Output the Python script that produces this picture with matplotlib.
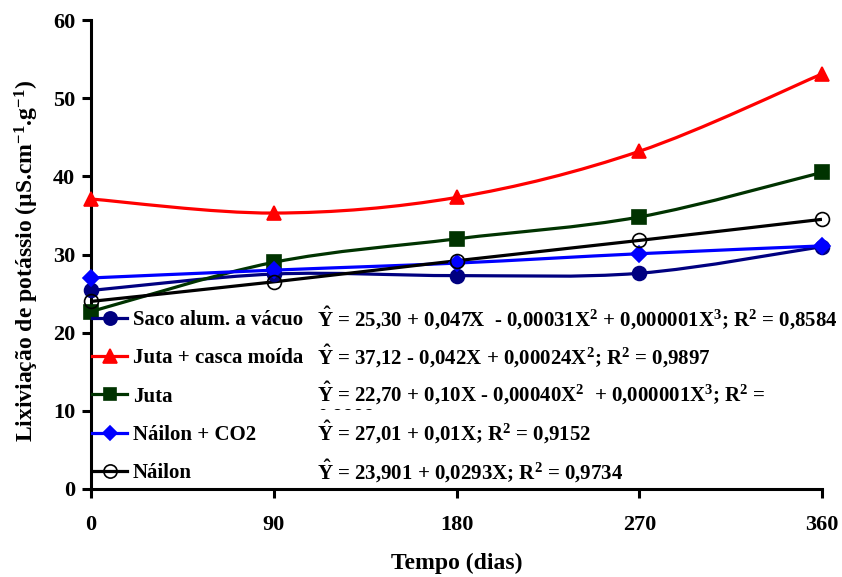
import matplotlib
matplotlib.use("Agg")
import matplotlib.pyplot as plt
import numpy as np
from matplotlib.lines import Line2D
from matplotlib.path import Path
from matplotlib.patches import PathPatch
from matplotlib.transforms import Bbox, TransformedBbox

plt.rcParams['font.family'] = ['Liberation Serif', 'DejaVu Serif']
plt.rcParams['font.weight'] = 'bold'
plt.rcParams['mathtext.fontset'] = 'custom'
plt.rcParams['mathtext.rm'] = 'Liberation Serif:bold'
plt.rcParams['mathtext.it'] = 'Liberation Serif:bold'
plt.rcParams['mathtext.bf'] = 'Liberation Serif:bold'

dias = [0, 90, 180, 270, 360]

saco_vacuo = [25.4, 27.5, 27.3, 27.6, 31.0]
juta_casca = [37.1, 35.3, 37.3, 43.2, 53.1]
juta = [22.7, 29.0, 32.0, 34.8, 40.5]
nailon_co2 = [27.0, 28.0, 28.9, 30.1, 31.1]
nailon = [24.0, 26.5, 29.2, 31.8, 34.5]

nomes = ['Saco alum. a vácuo', 'Juta + casca moída', 'Juta', 'Náilon + CO2', 'Náilon']
equacoes = [
    r'$\hat{Y}$ = 25,30 + 0,047X  - 0,00031X$^{2}$ + 0,000001X$^{3}$; R$^{2}$ = 0,8584',
    r'$\hat{Y}$ = 37,12 - 0,042X + 0,00024X$^{2}$; R$^{2}$ = 0,9897',
    r'$\hat{Y}$ = 22,70 + 0,10X - 0,00040X$^{2}$  + 0,000001X$^{3}$; R$^{2}$ =',
    r'$\hat{Y}$ = 27,01 + 0,01X; R$^{2}$ = 0,9152',
    r'$\hat{Y}$ = 23,901 + 0,0293X; R$^{2}$ = 0,9734',
]

estilos = [
    dict(color='#000080', marker='o', mfc='#000080'),
    dict(color='#ff0000', marker='^', mfc='#ff0000'),
    dict(color='#003300', marker='s', mfc='#003300'),
    dict(color='#0000ff', marker='D', mfc='#0000ff'),
    dict(color='#000000', marker='o', mfc='none'),
]
msizes = [10, 10, 9.5, 8, 10]
fs = 15        # legend and equations
fs_tick = 16
fs_label = 17


def curva_suave(x, y):
    # Catmull-Rom style smoothing, written as cubic Bezier segments
    p = np.column_stack([x, y]).astype(float)
    ext = np.vstack([p[0], p, p[-1]])
    verts = [p[0]]
    codes = [Path.MOVETO]
    for i in range(len(p) - 1):
        p0, p1, p2, p3 = ext[i], ext[i + 1], ext[i + 2], ext[i + 3]
        verts += [p1 + (p2 - p0) / 6, p2 - (p3 - p1) / 6, p2]
        codes += [Path.CURVE4] * 3
    return Path(verts, codes)


fig = plt.figure(figsize=(8.42, 5.77), dpi=100)
ax = fig.add_axes([91 / 842, 88 / 577, 731 / 842, 469 / 577])

series = [saco_vacuo, juta_casca, juta, nailon_co2, nailon]
handles = []
for valores, est, ms in zip(series, estilos, msizes):
    ax.add_patch(PathPatch(curva_suave(dias, valores), fill=False,
                           edgecolor=est['color'], lw=2.3, zorder=2))
    ax.plot(dias, valores, linestyle='none', marker=est['marker'], ms=ms,
            color=est['color'], mfc=est['mfc'], mew=1.2, zorder=3, clip_on=False)
    handles.append(Line2D([], [], color=est['color'], lw=2.3, marker=est['marker'],
                          ms=ms * 0.95, mfc=est['mfc'], mew=1.2))

ax.set_xlim(0, 360)
ax.set_ylim(0, 60)
ax.set_xticks(dias)
ax.set_yticks(np.arange(0, 61, 10))
for s in ['top', 'right']:
    ax.spines[s].set_visible(False)
for s in ['left', 'bottom']:
    ax.spines[s].set_linewidth(2.2)
ax.tick_params(axis='both', direction='out', length=6.5, width=2.2, labelsize=fs_tick)
ax.tick_params(axis='x', pad=12)
ax.tick_params(axis='y', pad=5)

ax.set_xlabel('Tempo (dias)', fontsize=fs_label, fontweight='bold', labelpad=13)
ax.set_ylabel(r'Lixiviação de potássio (µS.cm$^{-1}$.g$^{-1}$)', fontsize=fs_label,
              fontweight='bold')
ax.yaxis.set_label_coords(-0.069, 0.485)

leg = ax.legend(handles, nomes, loc='upper left',
                bbox_to_anchor=(92 / 842, 1 - 310 / 577), bbox_transform=fig.transFigure,
                frameon=False, fontsize=fs, handlelength=1.7, handletextpad=0.25,
                labelspacing=0.88, borderaxespad=0, borderpad=0)

# equations written beside each legend row
linhas_y = [318, 356, 393, 432, 471]
for eq, yp in zip(equacoes, linhas_y):
    ax.text(317 / 842, 1 - yp / 577, eq, transform=fig.transFigure, fontsize=fs,
            ha='left', va='center')

# wrapped remainder of the third equation, hidden under the next row
resto = ax.text(317 / 842, 1 - 418 / 577, '0,9999', transform=fig.transFigure,
                fontsize=fs, ha='left', va='center')
resto.set_clip_box(TransformedBbox(Bbox([[0, 1 - 410 / 577], [1, 1]]), fig.transFigure))
resto.set_clip_on(True)

fig.savefig('out.png', dpi=100)
